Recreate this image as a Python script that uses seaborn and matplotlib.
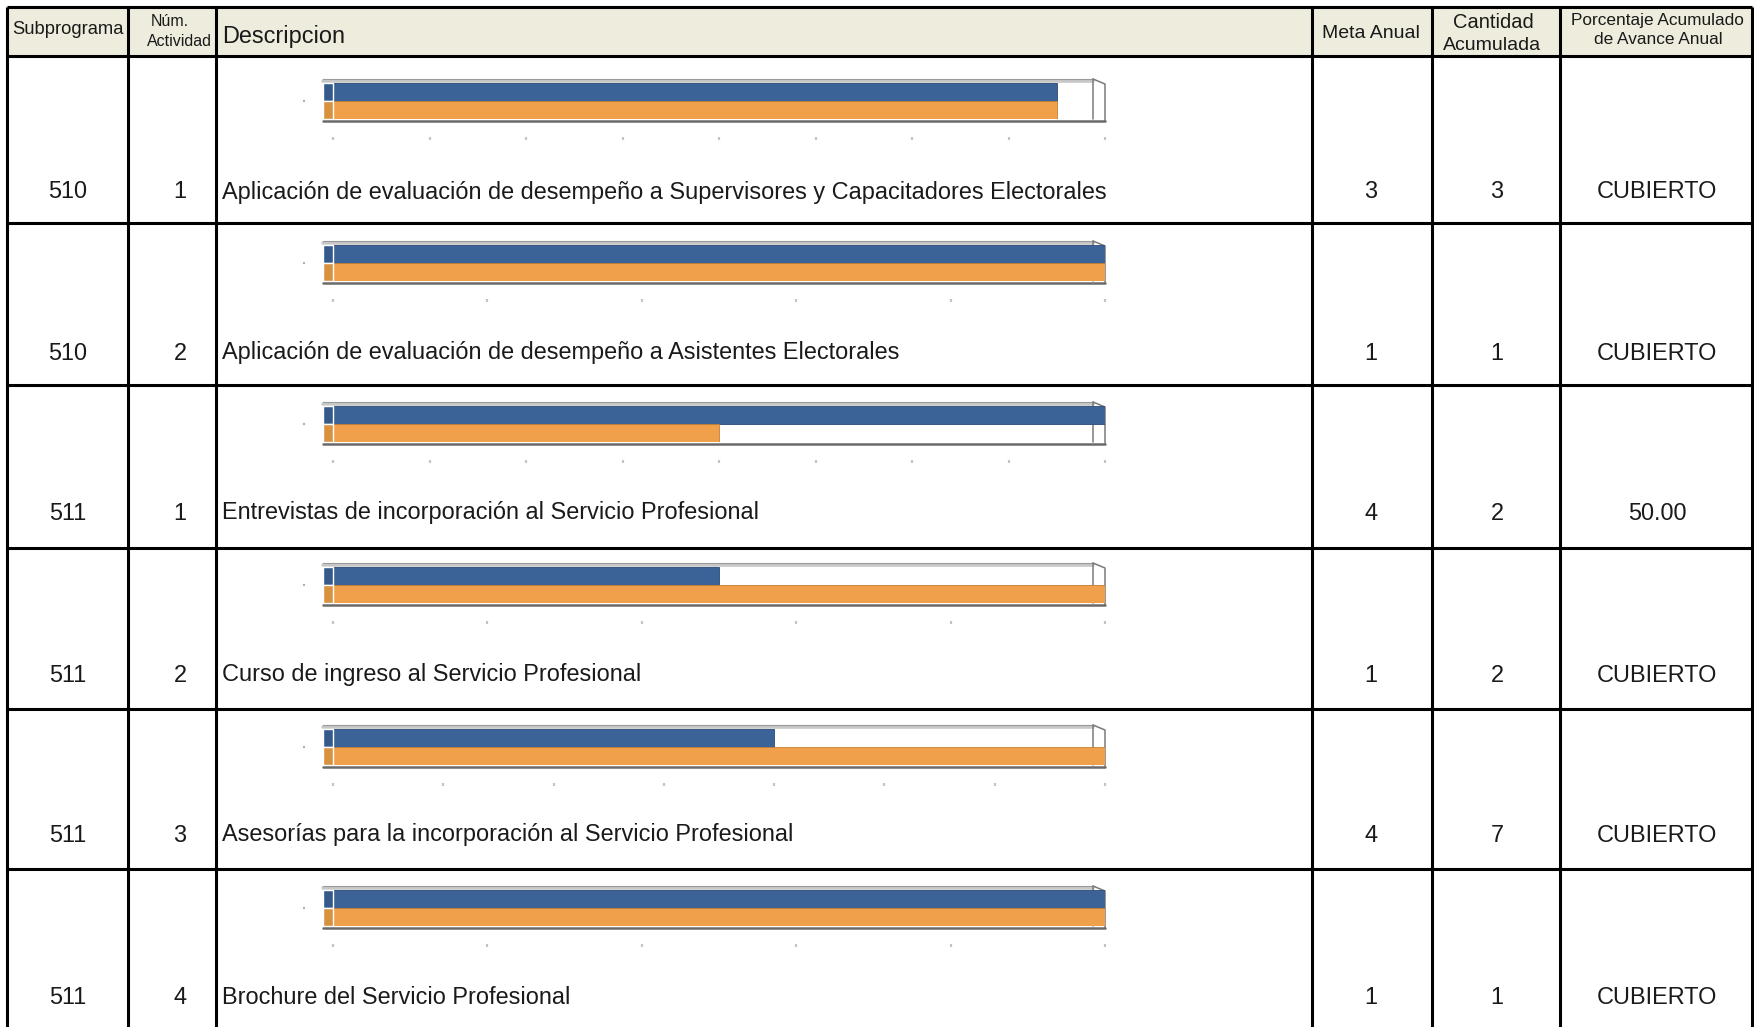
import matplotlib
matplotlib.use('Agg')
import matplotlib.pyplot as plt
import seaborn as sns
import pandas as pd
import numpy as np

# datos de la tabla
subprograma = ['510', '510', '511', '511', '511', '511']
actividad = ['1', '2', '1', '2', '3', '4']
descripcion = [
    'Aplicación de evaluación de desempeño a Supervisores y Capacitadores Electorales',
    'Aplicación de evaluación de desempeño a Asistentes Electorales',
    'Entrevistas de incorporación al Servicio Profesional',
    'Curso de ingreso al Servicio Profesional',
    'Asesorías para la incorporación al Servicio Profesional',
    'Brochure del Servicio Profesional',
]
meta_anual = [3, 1, 4, 1, 4, 1]
cantidad_acumulada = [3, 1, 2, 2, 7, 1]
porcentaje = ['CUBIERTO', 'CUBIERTO', '50.00', 'CUBIERTO', 'CUBIERTO', 'CUBIERTO']
# escala de cada mini grafica (como la pone Excel)
eje_max = [3.2, 1, 4, 2, 7, 1]
eje_paso = [0.4, 0.2, 0.5, 0.4, 1, 0.2]

series = ['Meta Anual', 'Cantidad Acumulada']
azul, naranja = '#3b6397', '#f0a04b'
azul_osc, naranja_osc = '#2a4a75', '#c47f35'

sns.set_style('white')
plt.rcParams['font.family'] = ['Liberation Sans', 'DejaVu Sans']
plt.rcParams['text.color'] = '#1a1a1a'

W, H = 1754, 1027
fig = plt.figure(figsize=(W / 100, H / 100), dpi=100)
ax = fig.add_axes([0, 0, 1, 1])
ax.set_xlim(0, W)
ax.set_ylim(H, 0)
ax.axis('off')

# posiciones de la tabla (pixeles)
cols = [7, 128, 216, 1312, 1432, 1560, 1752]
filas = [7, 56, 223, 385, 548, 709, 869]
txt_y = [192, 353, 513, 675, 835, 997]
barra_y = [83, 245, 406, 567, 729, 890]
barra_h = 36
bx0, bx1 = 333, 1105
fs = 16.9

# encabezado
ax.add_patch(plt.Rectangle((cols[0], filas[0]), cols[-1] - cols[0], filas[1] - filas[0],
                           facecolor='#eeecdc', edgecolor='none', zorder=0))
ax.text(68, 30, 'Subprograma', ha='center', va='center', fontsize=13.2)
ax.text(170, 21, 'Núm.', ha='center', va='center', fontsize=11.5)
ax.text(179, 41, 'Actividad', ha='center', va='center', fontsize=11.5)
ax.text(222, 36, 'Descripcion', ha='left', va='center', fontsize=fs)
ax.text(1371, 34, 'Meta Anual', ha='center', va='center', fontsize=14)
ax.text(1493, 23, 'Cantidad', ha='center', va='center', fontsize=14.5)
ax.text(1492, 46, 'Acumulada', ha='center', va='center', fontsize=14)
ax.text(1657, 20, 'Porcentaje Acumulado', ha='center', va='center', fontsize=12.4)
ax.text(1658, 39, 'de Avance Anual', ha='center', va='center', fontsize=12.4)

# lineas de la tabla
for y in filas:
    ax.plot([cols[0], cols[-1]], [y, y], color='black', lw=2.2, solid_capstyle='butt')
for x in cols:
    ax.plot([x, x], [filas[0], H], color='black', lw=2.2, solid_capstyle='butt')

# filas
for i in range(len(descripcion)):
    yt = txt_y[i]
    ax.text(68, yt, subprograma[i], ha='center', va='center', fontsize=fs)
    ax.text(180, yt, actividad[i], ha='center', va='center', fontsize=fs)
    ax.text(222, yt, descripcion[i], ha='left', va='center', fontsize=fs)
    ax.text(1371, yt, str(meta_anual[i]), ha='center', va='center', fontsize=fs)
    ax.text(1497, yt, str(cantidad_acumulada[i]), ha='center', va='center', fontsize=fs)
    ax.text(1657, yt, porcentaje[i], ha='center', va='center', fontsize=fs)

    # mini grafica de barras
    top = barra_y[i]
    axb = fig.add_axes([bx0 / W, 1 - (top + barra_h) / H, (bx1 - bx0) / W, barra_h / H])
    df = pd.DataFrame({'serie': series, 'valor': [meta_anual[i], cantidad_acumulada[i]]})
    sns.barplot(data=df, x='valor', y='serie', hue='serie', palette=[azul, naranja],
                width=1.0, saturation=1, legend=False, ax=axb, zorder=3)
    for p, c in zip(axb.patches, [azul_osc, naranja_osc]):
        p.set_edgecolor(c)
        p.set_linewidth(0.6)
    xmax = eje_max[i]
    prof = xmax * 10 / (bx1 - bx0)
    # lado 3D a la izquierda
    axb.barh([0, 1], [prof, prof], left=-prof, height=1, color=['#34598b', '#d8913f'],
             clip_on=False, zorder=3)
    axb.set_xlim(0, xmax)
    axb.set_ylim(1.5, -0.5)
    axb.set_xlabel('')
    axb.set_ylabel('')
    axb.set_facecolor('none')
    axb.set_xticks(np.arange(0, xmax + eje_paso[i] / 2, eje_paso[i]))
    axb.set_xticklabels([])
    axb.set_yticks([0.5])
    axb.set_yticklabels([])
    for s in ['top', 'right', 'bottom', 'left']:
        axb.spines[s].set_visible(False)
    axb.spines['bottom'].set_position(('outward', 13))
    axb.spines['left'].set_position(('outward', 20))
    axb.tick_params(axis='x', bottom=True, length=2, width=1.6, color='#c4c4c4', direction='out')
    axb.tick_params(axis='y', left=True, length=1.3, width=1.6, color='#b0b0b0', direction='out')

    # marco 3D
    xi = (1093 - bx0) / (bx1 - bx0)
    xl = -10 / (bx1 - bx0)
    t = axb.transAxes
    axb.plot([xl, xi], [1 + 2.5 / barra_h, 1 + 2.5 / barra_h], transform=t, color='#c8c8c8',
             lw=2.6, clip_on=False, zorder=1)
    axb.plot([xl, xi], [1 + 4 / barra_h, 1 + 4 / barra_h], transform=t, color='#9a9a9a',
             lw=0.8, clip_on=False, zorder=1)
    axb.plot([xl, 1], [-1.5 / barra_h, -1.5 / barra_h], transform=t, color='#6a6a6a',
             lw=1.8, clip_on=False, zorder=4)
    axb.plot([xi, xi], [1 + 4 / barra_h, 0], transform=t, color='#7a7a7a',
             lw=1.1, clip_on=False, zorder=1)
    axb.plot([xi, 1, 1], [1 + 4 / barra_h, 1 - 1 / barra_h, -2 / barra_h], transform=t,
             color='#7a7a7a', lw=1.1, clip_on=False, zorder=1)

fig.savefig('out.png', dpi=100)
